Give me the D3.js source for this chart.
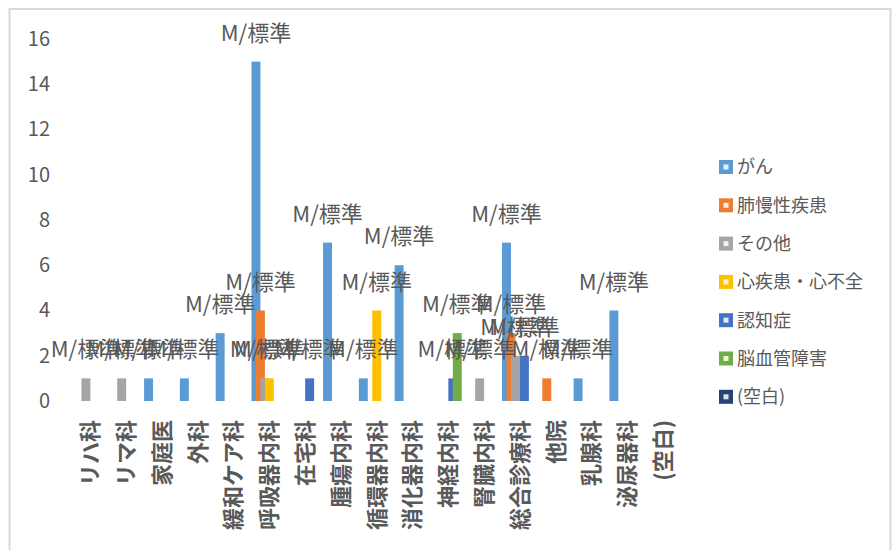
<!DOCTYPE html>
<html lang="ja">
<head>
<meta charset="utf-8">
<script src="https://cdn.jsdelivr.net/npm/d3@7/dist/d3.min.js"></script>
<style>
  body { margin: 0; background: #fff; }
  text { font-family: "Noto Sans CJK JP", "Noto Sans", sans-serif; fill: #595959; }
</style>
</head>
<body>
<script>
// categories along the x axis
var categories = ["リハ科", "リマ科", "家庭医", "外科", "緩和ケア科", "呼吸器内科", "在宅科", "腫瘍内科",
  "循環器内科", "消化器内科", "神経内科", "腎臓内科", "総合診療科", "他院", "乳腺科", "泌尿器科", "(空白)"];

var seriesNames = ["がん", "肺慢性疾患", "その他", "心疾患・心不全", "認知症", "脳血管障害", "(空白)"];
var seriesColors = ["#5b9bd5", "#ed7d31", "#a5a5a5", "#ffc000", "#4472c4", "#70ad47", "#264478"];

// values per series, null = blank cell (no bar, no label)
var gan      = [null, null, 1, 1, 3, 15, null, 7, 1, 6, null, null, 7, null, 1, 4, null];
var haiMansei = [null, null, null, null, null, 4, null, null, null, null, null, null, 3, 1, null, null, null];
var sonota   = [1, 1, null, null, null, 1, null, null, null, null, null, 1, 2, null, null, null, null];
var shinShikkan = [null, null, null, null, null, 1, null, null, 4, null, null, null, null, null, null, null, null];
var ninchi   = [null, null, null, null, null, null, 1, null, null, null, 1, null, 2, null, null, null, null];
var noKekkan = [null, null, null, null, null, null, null, null, null, null, 3, null, null, null, null, null, null];
var kuhaku   = [null, null, null, null, null, null, null, null, null, null, null, null, null, null, null, null, null];

var yTicks = [0, 2, 4, 6, 8, 10, 12, 14, 16];
var labelText = "M/標準";

var seriesValues = [gan, haiMansei, sonota, shinShikkan, ninchi, noKekkan, kuhaku];

var W = 893, H = 550;
var plot = {left: 72.5, right: 681, top: 39, bottom: 401};

var svg = d3.select("body").append("svg")
    .attr("width", W)
    .attr("height", H);

// outer chart border
svg.append("rect")
    .attr("x", 9.5).attr("y", 9)
    .attr("width", 881).attr("height", 560)
    .attr("fill", "none")
    .attr("stroke", "#d9d9d9")
    .attr("stroke-width", 2);

var x = d3.scaleBand()
    .domain(categories)
    .range([plot.left, plot.right])
    .padding(0);

var y = d3.scaleLinear()
    .domain([0, 16])
    .range([plot.bottom, plot.top]);

// 7 bars overlapping by half inside each category
var step = x.bandwidth() / 8,
    barW = step * 2;

var yAxis = d3.axisLeft(y)
    .tickValues(yTicks)
    .tickSize(0)
    .tickPadding(0);

var yAxisG = svg.append("g")
    .attr("transform", "translate(" + 50 + ",0)")
    .call(yAxis);
yAxisG.select(".domain").remove();
yAxisG.selectAll("text")
    .attr("font-size", 20)
    .attr("font-family", null)
    .attr("fill", "#595959");

var rows = [];
seriesValues.forEach(function(vals, si) {
  vals.forEach(function(v, ci) {
    if (v != null) rows.push({s: si, c: categories[ci], v: v});
  });
});

svg.append("g")
  .selectAll("rect")
  .data(rows)
  .enter().append("rect")
    .attr("x", d => x(d.c) + d.s * step)
    .attr("y", d => y(d.v))
    .attr("width", barW)
    .attr("height", d => y(0) - y(d.v))
    .attr("fill", d => seriesColors[d.s]);

svg.append("g")
  .selectAll("text")
  .data(rows)
  .enter().append("text")
    .attr("x", d => x(d.c) + d.s * step + barW / 2)
    .attr("y", d => y(d.v) - 21)
    .attr("text-anchor", "middle")
    .attr("font-size", 22)
    .text(labelText);

// category labels, rotated
svg.append("g")
  .selectAll("text")
  .data(categories)
  .enter().append("text")
    .attr("transform", d => "translate(" + (x(d) + x.bandwidth() / 2) + ",420) rotate(-90)")
    .attr("dy", "0.36em")
    .attr("text-anchor", "end")
    .attr("font-size", 22)
    .attr("font-weight", 700)
    .text(d => d);

// legend
var legend = svg.append("g")
  .selectAll("g")
  .data(seriesNames)
  .enter().append("g")
    .attr("transform", (d, i) => "translate(719," + (167 + i * 38.3) + ")");

legend.append("rect")
    .attr("x", 0).attr("y", -7)
    .attr("width", 14).attr("height", 14)
    .attr("fill", (d, i) => seriesColors[i]);
legend.append("rect")
    .attr("x", 4.5).attr("y", -2.5)
    .attr("width", 5).attr("height", 5)
    .attr("fill", "#fff")
    .attr("opacity", 0.85);
legend.append("text")
    .attr("x", 18)
    .attr("dy", "0.35em")
    .attr("font-size", 18)
    .attr("fill", "#7f7f7f")
    .text(d => d);
</script>
</body>
</html>
